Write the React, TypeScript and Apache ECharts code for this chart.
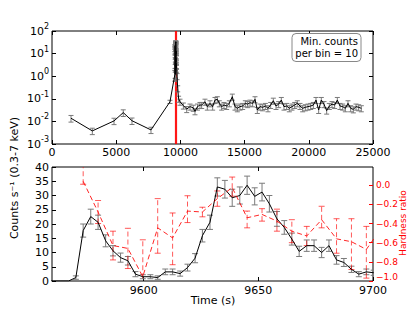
import React, { useEffect, useRef } from "react";
import * as echarts from "echarts";

const FONT = "DejaVu Sans";

// ---- Top panel: long light curve (log scale) ----
const PRE_T = [1480, 3140, 4830, 5550, 6230, 7710, 9190];
const PRE_V = [0.0138, 0.0038, 0.0105, 0.0245, 0.0107, 0.0042, 0.074];
const PRE_ERR = [0.0045, 0.0012, 0.0033, 0.008, 0.0034, 0.0013, 0.012];

const DECAY_T = [9740, 9790, 9860, 9970, 10230, 10490, 10750, 11000, 11135, 11330, 11525];
const DECAY_V = [1.0, 0.29, 0.1, 0.074, 0.05, 0.035, 0.045, 0.04, 0.028, 0.045, 0.053];

const TAIL_T = [11656, 11915, 12097, 12305, 12512, 12694, 12876, 13032, 13213, 13395, 13603, 13810, 14044, 14252, 14434, 14641, 14849, 15057, 15238, 15420, 15628, 15809, 15991, 16199, 16406, 16614, 16822, 17030, 17237, 17445, 17653, 17860, 18068, 18276, 18483, 18691, 18899, 19106, 19314, 19522, 19729, 19937, 20145, 20352, 20560, 20768, 20975, 21183, 21391, 21598, 21806, 22014, 22222, 22429, 22637, 22845, 23052, 23260, 23468, 23675, 23883, 24090];
const TAIL_V = [0.053, 0.074, 0.045, 0.063, 0.045, 0.088, 0.095, 0.063, 0.045, 0.053,
  0.048, 0.063, 0.124, 0.045, 0.038, 0.045, 0.048, 0.063, 0.058, 0.067,
  0.063, 0.095, 0.032, 0.045, 0.042, 0.048, 0.038, 0.053, 0.082, 0.048,
  0.058, 0.088, 0.045, 0.048, 0.038, 0.045, 0.053, 0.063, 0.048, 0.038,
  0.042, 0.045, 0.048, 0.053, 0.088, 0.032, 0.088, 0.058, 0.030, 0.048,
  0.058, 0.053, 0.088, 0.048, 0.045, 0.038, 0.063, 0.038, 0.034, 0.045,
  0.042, 0.038];
// minimum 10 counts per bin -> relative error ~ 1/sqrt(10)
const REL_ERR = 0.3;

// zoomed interval marked in the top panel
const ZOOM_EDGES = [9560, 9700];

// ---- Bottom panel: flare zoom ----
const RATE_T = [9557.4, 9560.7, 9563.9, 9567.2, 9570.4, 9573.6, 9576.9, 9580.1, 9583.4, 9586.6, 9589.9, 9593.1, 9596.4, 9599.6, 9602.9, 9606.1, 9609.4, 9612.6, 9615.9, 9619.1, 9622.4, 9625.6, 9628.9, 9632.1, 9635.4, 9638.6, 9641.9, 9645.1, 9648.4, 9651.6, 9654.8, 9658.1, 9661.3, 9664.6, 9667.8, 9671.1, 9674.3, 9677.6, 9680.8, 9684.1, 9687.3, 9690.6, 9693.8, 9697.1, 9700.3];
const RATE = [0, 0, 0, 0, 1.2, 17.7, 22.6, 20.6, 14.1, 10.6, 8.2, 7.1, 2.4, 1.5, 1.5, 1.2, 3.2, 3.2, 2.6, 4.7, 8.0, 15.9, 20.6, 33.0, 32.2, 29.2, 30.0, 33.6, 29.7, 31.2, 27.1, 21.8, 18.8, 14.7, 10.4, 12.4, 12.4, 10.0, 12.4, 7.4, 6.5, 4.1, 2.4, 3.2, 2.9];
const RATE_ERR = [0, 0, 0, 0, 0.6, 2.3, 2.6, 2.5, 2.1, 1.8, 1.6, 1.5, 0.9, 0.7, 0.7, 0.6, 1.0, 1.0, 0.9, 1.2, 1.6, 2.2, 2.5, 3.2, 3.1, 3.0, 3.0, 3.2, 3.0, 3.1, 2.9, 2.6, 2.4, 2.1, 1.8, 2.0, 2.0, 1.8, 2.0, 1.5, 1.4, 1.1, 0.9, 1.0, 0.9];

const HR_T = [9573.6, 9580.1, 9586.6, 9593.1, 9599.6, 9606.1, 9612.6, 9619.1, 9625.6, 9632.1, 9638.6, 9645.1, 9651.6, 9658.1, 9664.6, 9671.1, 9677.6, 9684.1, 9690.6, 9697.1, 9703.6];
const HR = [0.04, -0.28, -0.63, -0.66, -0.955, -0.445, -0.55, -0.27, -0.28, -0.14, -0.025, -0.34, -0.305, -0.375, -0.48, -0.53, -0.36, -0.56, -0.59, -0.67, -0.45];
const HR_ERR_LO = [0.03, 0.12, 0.15, 0.21, 0.1, 0.265, 0.28, 0.12, 0.05, 0.08, 0.09, 0.105, 0.07, 0.105, 0.12, 0.1, 0.085, 0.15, 0.29, 0.3, 0.2];
const HR_ERR_HI = [0.4, 0.12, 0.15, 0.21, 0.385, 0.305, 0.26, 0.16, 0.05, 0.08, 0.11, 0.07, 0.06, 0.125, 0.12, 0.1, 0.14, 0.21, 0.24, 0.24, 0.2];

const X_TOP_TICKS = [0, 5000, 10000, 15000, 20000, 25000];
const X_BOT_TICKS = [9600, 9650, 9700];
const X_BOT_TOP_TICKS = [9600, 9650];
const HR_TICKS = [-1.0, -0.8, -0.6, -0.4, -0.2, 0.0];

const logLabel = (v: number) => {
  const e = Math.round(Math.log10(v));
  return "{b|10}{s|" + (e < 0 ? "-" : "") + Math.abs(e) + "}";
};

const hrLabel = (v: number) => {
  const s = (v < -1e-9 ? "−" : "") + Math.abs(v).toFixed(1);
  return v <= -0.999 ? "{lo|" + s + "}" : s;
};

function errRender(color: string, dash: number[] | null, cap: number) {
  return (params: any, api: any) => {
    const x = api.value(0);
    const lo = api.value(1);
    const hi = api.value(2);
    if (hi === lo) return null;
    const p1 = api.coord([x, lo]);
    const p2 = api.coord([x, hi]);
    const st: any = { stroke: color, lineWidth: 1, fill: null };
    if (dash) st.lineDash = dash;
    const cs = { stroke: color, lineWidth: 1, fill: null };
    return {
      type: "group",
      children: [
        { type: "line", shape: { x1: p1[0], y1: p1[1], x2: p2[0], y2: p2[1] }, style: st },
        { type: "line", shape: { x1: p1[0] - cap, y1: p1[1], x2: p1[0] + cap, y2: p1[1] }, style: cs },
        { type: "line", shape: { x1: p2[0] - cap, y1: p2[1], x2: p2[0] + cap, y2: p2[1] }, style: cs },
      ],
    };
  };
}

export default function App() {
  const ref = useRef<HTMLDivElement>(null);
  useEffect(() => {
    document.body.style.margin = "0";
    if (!ref.current) return;
    const chart = echarts.init(ref.current, null, { renderer: "svg" });

    const top: number[][] = [];
    PRE_T.forEach((t, i) => top.push([t, PRE_V[i], PRE_ERR[i]]));
    RATE_T.forEach((t, i) => {
      if (RATE[i] > 0) top.push([t, RATE[i], RATE_ERR[i]]);
    });
    DECAY_T.forEach((t, i) => top.push([t, DECAY_V[i], DECAY_V[i] * REL_ERR]));
    TAIL_T.forEach((t, i) => top.push([t, TAIL_V[i], TAIL_V[i] * REL_ERR]));

    const tickIn = { show: true, inside: true, length: 4, lineStyle: { color: "#000", width: 1 } };
    const noLine = { show: false, onZero: false };
    const lbl = { fontFamily: FONT, fontSize: 11, color: "#000" };

    const option: any = {
      animation: false,
      textStyle: { fontFamily: FONT },
      grid: [
        { left: 52, top: 31, width: 321, height: 113, show: true, borderColor: "#000", borderWidth: 1, backgroundColor: "transparent" },
        { left: 52, top: 167, width: 321, height: 114, show: true, borderColor: "#000", borderWidth: 1, backgroundColor: "transparent" },
      ],
      xAxis: [
        {
          gridIndex: 0, type: "value", min: 0, max: 25000, position: "bottom",
          axisLine: noLine, splitLine: { show: false },
          axisTick: { ...tickIn, customValues: X_TOP_TICKS },
          axisLabel: { ...lbl, margin: 3, customValues: X_TOP_TICKS, formatter: (v: number) => String(v) },
        },
        {
          gridIndex: 0, type: "value", min: 0, max: 25000, position: "top",
          axisLine: noLine, splitLine: { show: false },
          axisTick: { ...tickIn, customValues: X_TOP_TICKS }, axisLabel: { show: false },
        },
        {
          gridIndex: 1, type: "value", min: 9560, max: 9700, position: "bottom",
          axisLine: noLine, splitLine: { show: false },
          axisTick: { ...tickIn, customValues: X_BOT_TICKS },
          axisLabel: { ...lbl, margin: 4, lineHeight: 11, customValues: X_BOT_TICKS, formatter: (v: number) => String(v) },
        },
        {
          gridIndex: 1, type: "value", min: 9560, max: 9700, position: "top",
          axisLine: noLine, splitLine: { show: false },
          axisTick: { ...tickIn, customValues: X_BOT_TOP_TICKS }, axisLabel: { show: false },
        },
      ],
      yAxis: [
        {
          gridIndex: 0, type: "log", logBase: 10, min: 0.001, max: 100, position: "left",
          axisLine: noLine, splitLine: { show: false }, axisTick: tickIn,
          axisLabel: {
            ...lbl, margin: 3, formatter: logLabel,
            rich: {
              b: { fontFamily: FONT, fontSize: 11, color: "#000" },
              s: { fontFamily: FONT, fontSize: 8, color: "#000", padding: [0, 0, 9, 0] },
            },
          },
        },
        {
          gridIndex: 0, type: "log", logBase: 10, min: 0.001, max: 100, position: "right",
          axisLine: noLine, splitLine: { show: false }, axisTick: tickIn, axisLabel: { show: false },
        },
        {
          gridIndex: 1, type: "value", min: 0, max: 40, interval: 5, position: "left",
          axisLine: noLine, splitLine: { show: false }, axisTick: tickIn,
          axisLabel: { ...lbl, margin: 3 },
        },
        {
          gridIndex: 1, type: "value", min: -1.0, max: 0.19, position: "right",
          axisLine: noLine, splitLine: { show: false },
          axisTick: { show: true, inside: true, length: 4, lineStyle: { color: "#ff0000", width: 1 }, customValues: HR_TICKS },
          axisLabel: {
            fontFamily: FONT, fontSize: 9, lineHeight: 9, color: "#ff0000", margin: 3, customValues: HR_TICKS,
            formatter: hrLabel,
            rich: {
              lo: { fontFamily: FONT, fontSize: 9, lineHeight: 9, color: "#ff0000", padding: [0, 0, 8, 0] },
            },
          },
        },
      ],
      series: [
        {
          type: "line", xAxisIndex: 0, yAxisIndex: 0, symbol: "none", data: [], z: 1,
          markLine: {
            silent: true, symbol: "none", label: { show: false }, z: 1,
            lineStyle: { color: "#ff0000", width: 1.2, type: "solid", opacity: 0.9 },
            emphasis: { disabled: true },
            data: ZOOM_EDGES.map((x) => ({ xAxis: x })),
          },
        },
        {
          type: "custom", xAxisIndex: 0, yAxisIndex: 0, clip: true, z: 3,
          renderItem: errRender("#7a7a7a", null, 2.5),
          encode: { x: 0, y: [1, 2] },
          data: top.map((d) => [d[0], d[1] - d[2], d[1] + d[2]]),
        },
        {
          type: "line", xAxisIndex: 0, yAxisIndex: 0, symbol: "none", z: 4,
          lineStyle: { color: "#000", width: 1 },
          data: top.map((d) => [d[0], d[1]]),
        },
        {
          type: "custom", xAxisIndex: 2, yAxisIndex: 2, clip: true,
          renderItem: errRender("#7a7a7a", null, 3),
          encode: { x: 0, y: [1, 2] },
          data: RATE_T.map((t, i) => [t, RATE[i] - RATE_ERR[i], RATE[i] + RATE_ERR[i]]),
        },
        {
          type: "line", xAxisIndex: 2, yAxisIndex: 2, symbol: "none", clip: true,
          lineStyle: { color: "#000", width: 1 },
          data: RATE_T.map((t, i) => [t, RATE[i]]),
        },
        {
          type: "custom", xAxisIndex: 2, yAxisIndex: 3, clip: true,
          renderItem: errRender("rgba(255,0,0,0.65)", [5, 3], 3),
          encode: { x: 0, y: [1, 2] },
          data: HR_T.map((t, i) => [t, HR[i] - HR_ERR_LO[i], HR[i] + HR_ERR_HI[i]]),
        },
        {
          type: "line", xAxisIndex: 2, yAxisIndex: 3, symbol: "none", clip: true,
          lineStyle: { color: "rgba(255,0,0,0.85)", width: 1, type: [5, 3] },
          data: HR_T.map((t, i) => [t, HR[i]]),
        },
      ],
      graphic: [
        {
          type: "text", x: 14, y: 178, rotation: Math.PI / 2,
          style: { text: "Counts s⁻¹ (0.3-7 keV)", font: `11px "${FONT}"`, fill: "#000", align: "center", verticalAlign: "middle", textAlign: "center", textVerticalAlign: "middle" },
        },
        {
          type: "text", x: 403, y: 223, rotation: Math.PI / 2,
          style: { text: "Hardness ratio", font: `9px "${FONT}"`, fill: "#ff0000", align: "center", verticalAlign: "middle", textAlign: "center", textVerticalAlign: "middle" },
        },
        {
          type: "text", x: 213, y: 300,
          style: { text: "Time (s)", font: `11px "${FONT}"`, fill: "#000", align: "center", verticalAlign: "middle", textAlign: "center", textVerticalAlign: "middle" },
        },
        {
          type: "rect", shape: { x: 292, y: 33.5, width: 69, height: 28, r: 4 },
          style: { fill: "#fff", stroke: "#888", lineWidth: 1 }, z: 10,
        },
        {
          type: "text", x: 358, y: 41.5, z: 11,
          style: { text: "Min. counts", font: `10px "${FONT}"`, fill: "#000", align: "right", verticalAlign: "middle", textAlign: "right", textVerticalAlign: "middle" },
        },
        {
          type: "text", x: 358, y: 53, z: 11,
          style: { text: "per bin = 10", font: `10px "${FONT}"`, fill: "#000", align: "right", verticalAlign: "middle", textAlign: "right", textVerticalAlign: "middle" },
        },
      ],
    };
    chart.setOption(option);
    return () => chart.dispose();
  }, []);
  return <div ref={ref} style={{ width: 415, height: 312 }} />;
}
